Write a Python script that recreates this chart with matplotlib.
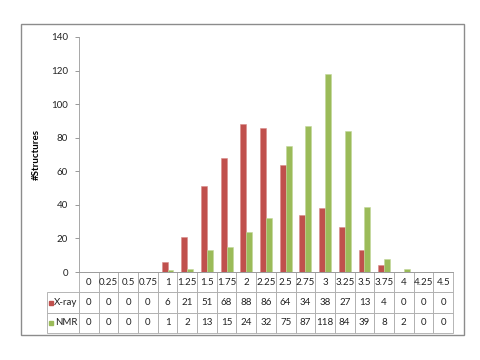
import numpy as np
import matplotlib.pyplot as plt
from matplotlib.patches import Rectangle

# data
categories = ['0', '0.25', '0.5', '0.75', '1', '1.25', '1.5', '1.75', '2', '2.25',
              '2.5', '2.75', '3', '3.25', '3.5', '3.75', '4', '4.25', '4.5']
xray = [0, 0, 0, 0, 6, 21, 51, 68, 88, 86, 64, 34, 38, 27, 13, 4, 0, 0, 0]
nmr = [0, 0, 0, 0, 1, 2, 13, 15, 24, 32, 75, 87, 118, 84, 39, 8, 2, 0, 0]
series_names = ['X-ray', 'NMR']
colors = ['#C0504D', '#9BBB59']

plt.rcParams['font.family'] = ['Lato', 'DejaVu Sans']

fig = plt.figure(figsize=(4.8, 3.6), dpi=100)

# outer chart border
fig.patches.append(Rectangle((21 / 480, 1 - 335 / 360), 443 / 480, 311 / 360,
                             transform=fig.transFigure, fill=False,
                             edgecolor='#8c8c8c', linewidth=1.0))

ax = fig.add_axes([79 / 480, 1 - 272 / 360, 374 / 480, 235 / 360])

x = np.arange(len(categories))
w = 0.3
ax.bar(x - w / 2, xray, w, color=colors[0], edgecolor='#d98c8a', linewidth=0.4)
ax.bar(x + w / 2, nmr, w, color=colors[1], edgecolor='#c3d89a', linewidth=0.4)

ax.set_xlim(-0.5, len(categories) - 0.5)
ax.set_ylim(0, 140)
ax.set_yticks(range(0, 141, 20))
ax.set_xticks([])
ax.tick_params(axis='y', labelsize=7, colors='#888888', labelcolor='#222222',
               length=3, width=0.6, pad=5)
for s in ['top', 'right']:
    ax.spines[s].set_visible(False)
ax.spines['left'].set_color('#999999')
ax.spines['left'].set_linewidth(0.6)
ax.spines['bottom'].set_color('#999999')
ax.spines['bottom'].set_linewidth(0.6)

ax.set_ylabel('#Structures', fontsize=7, fontweight='bold', labelpad=7)

# data table under the axis
lab_w = 32 / 374
n = len(categories)
cell_text = [[''] + categories,
             ['X-ray'] + [str(v) for v in xray],
             ['NMR'] + [str(v) for v in nmr]]
tbl_h = 61 / 235
tbl = ax.table(cellText=cell_text, cellLoc='center',
               colWidths=[lab_w] + [1 / n] * n,
               bbox=[-lab_w, -tbl_h, 1 + lab_w, tbl_h])
tbl.auto_set_font_size(False)
tbl.set_fontsize(7)
for (r, c), cell in tbl.get_celld().items():
    cell.set_edgecolor('#aaaaaa')
    cell.set_linewidth(0.6)
    cell.get_text().set_color('#222222')
    if c == 0:
        cell.get_text().set_ha('right')
        cell._loc = 'right'
        cell.PAD = 0.05
tbl[0, 0].set_edgecolor('none')
tbl[0, 0].visible_edges = ''

# legend keys inside the row label cells
for i, (name, col) in enumerate(zip(series_names, colors)):
    yc = -tbl_h + tbl_h * (2 - i - 0.5) / 3
    ax.plot([-lab_w + 0.012], [yc], marker='s', markersize=3.5, color=col,
            transform=ax.transAxes, clip_on=False, linestyle='none')

fig.savefig('out.png', dpi=100)
